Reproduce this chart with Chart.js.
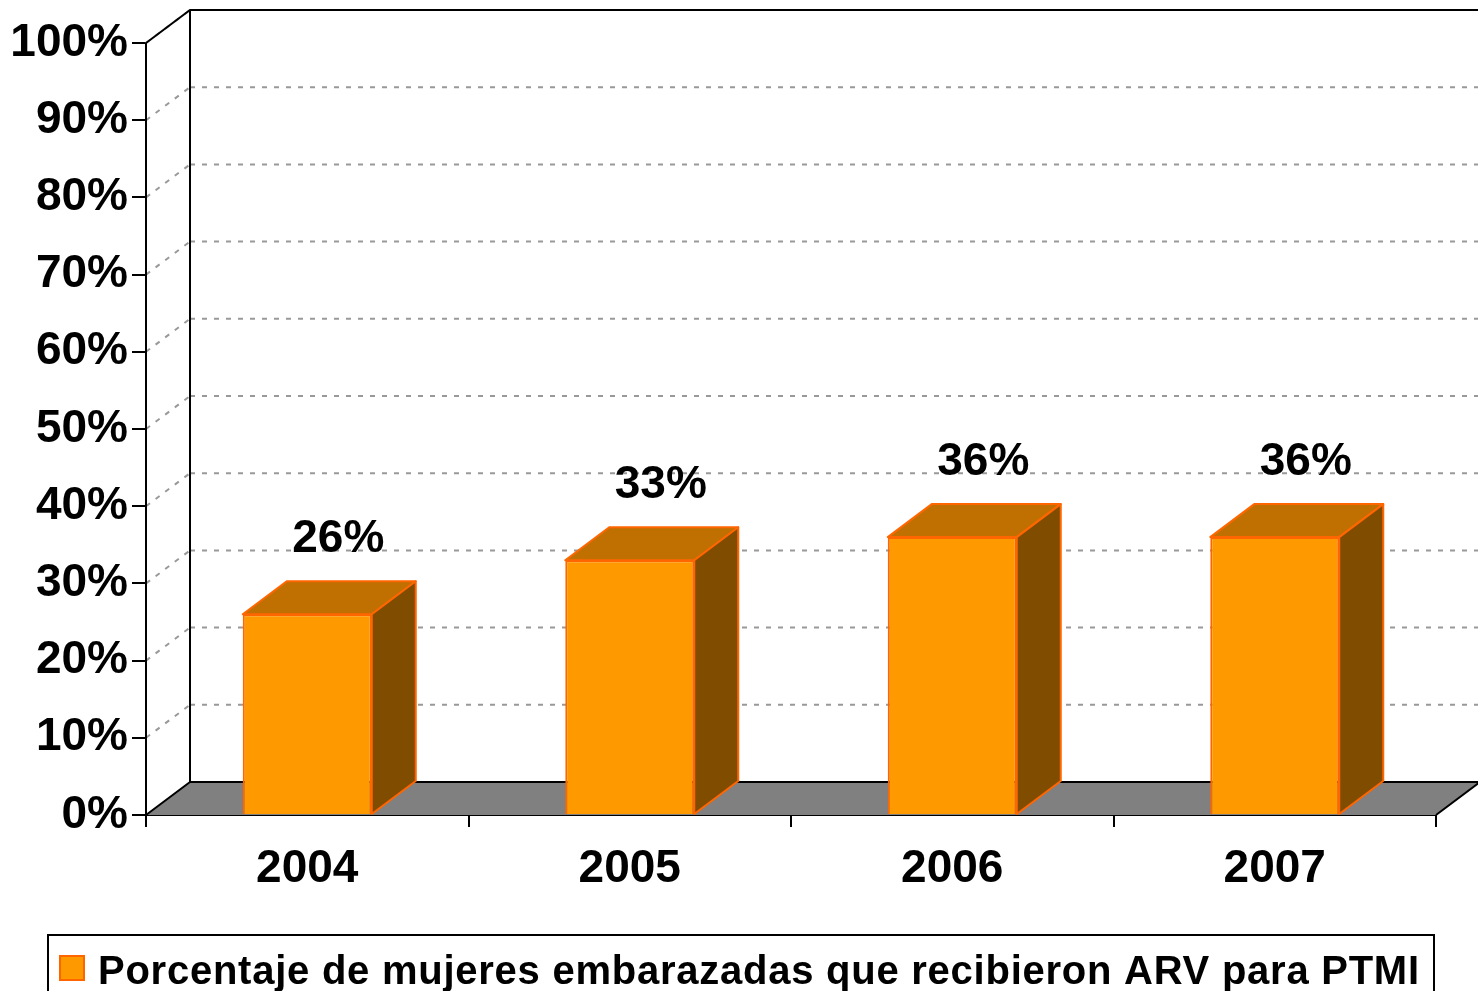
<!DOCTYPE html>
<html>
<head>
<meta charset="utf-8">
<script src="https://cdn.jsdelivr.net/npm/chart.js@4"></script>
<style>
  body { margin: 0; background: #fff; }
  canvas { display: block; }
</style>
</head>
<body>
<canvas id="myChart" width="1478" height="991"></canvas>
<script>
const years = ["2004", "2005", "2006", "2007"];
const percentValues = [26, 33, 36, 36];
const seriesLabel = "Porcentaje de mujeres embarazadas que recibieron ARV para PTMI";
const yTicks = [0, 10, 20, 30, 40, 50, 60, 70, 80, 90, 100];

// depth of the fake 3d
const DX = 44, DY = -33;
const FONT = "'Liberation Sans', Arial, sans-serif";

const box3d = {
  id: "box3d",
  beforeDatasetsDraw(chart) {
    const ctx = chart.ctx;
    const y = chart.scales.y, x = chart.scales.x;
    const left = x.left, right = x.right;
    const y0 = y.getPixelForValue(0);
    ctx.save();
    // floor
    ctx.fillStyle = "#808080";
    ctx.beginPath();
    ctx.moveTo(left, y0);
    ctx.lineTo(right, y0);
    ctx.lineTo(right + DX, y0 + DY);
    ctx.lineTo(left + DX, y0 + DY);
    ctx.closePath();
    ctx.fill();
    // dotted grid on back wall and side wall
    ctx.strokeStyle = "#999";
    ctx.lineWidth = 2;
    ctx.setLineDash([5, 7]);
    yTicks.forEach(v => {
      if (v === 0) return;
      const py = y.getPixelForValue(v);
      ctx.beginPath();
      ctx.moveTo(left + DX, py + DY);
      ctx.lineTo(right + DX, py + DY);
      ctx.stroke();
      ctx.beginPath();
      ctx.moveTo(left, py);
      ctx.lineTo(left + DX, py + DY);
      ctx.stroke();
    });
    ctx.setLineDash([]);
    // wall edges
    const yTop = y.getPixelForValue(100);
    ctx.strokeStyle = "#000";
    ctx.lineWidth = 2;
    ctx.beginPath();
    ctx.moveTo(left, yTop);
    ctx.lineTo(left + DX, yTop + DY);
    ctx.lineTo(right + DX, yTop + DY);
    ctx.moveTo(left + DX, yTop + DY);
    ctx.lineTo(left + DX, y0 + DY);
    ctx.lineTo(right + DX, y0 + DY);
    ctx.lineTo(right, y0);
    ctx.moveTo(left, y0);
    ctx.lineTo(left + DX, y0 + DY);
    ctx.moveTo(left, yTop);
    ctx.lineTo(left, y0 + 12);
    ctx.stroke();
    ctx.restore();
  },
  afterDatasetsDraw(chart) {
    const ctx = chart.ctx;
    const meta = chart.getDatasetMeta(0);
    ctx.save();
    ctx.lineWidth = 2;
    ctx.strokeStyle = "#FF6600";
    ctx.lineJoin = "round";
    meta.data.forEach((bar, i) => {
      const p = bar.getProps(["x", "y", "base", "width"], true);
      const l = p.x - p.width / 2, r = p.x + p.width / 2;
      // top face
      ctx.fillStyle = "#BF7000";
      ctx.beginPath();
      ctx.moveTo(l, p.y);
      ctx.lineTo(l + DX, p.y + DY);
      ctx.lineTo(r + DX, p.y + DY);
      ctx.lineTo(r, p.y);
      ctx.closePath();
      ctx.fill();
      ctx.stroke();
      // side face
      ctx.fillStyle = "#804C00";
      ctx.beginPath();
      ctx.moveTo(r, p.y);
      ctx.lineTo(r + DX, p.y + DY);
      ctx.lineTo(r + DX, p.base + DY);
      ctx.lineTo(r, p.base);
      ctx.closePath();
      ctx.fill();
      ctx.stroke();
      // value label
      ctx.fillStyle = "#000";
      ctx.font = "bold 46px " + FONT;
      ctx.textAlign = "center";
      ctx.textBaseline = "alphabetic";
      ctx.fillText(percentValues[i] + "%", p.x + 31, p.y + DY - 29);
    });
    ctx.restore();
  },
  afterDraw(chart) {
    // legend box
    const ctx = chart.ctx;
    ctx.save();
    ctx.strokeStyle = "#000";
    ctx.lineWidth = 2;
    ctx.strokeRect(48, 935, 1386, 80);
    ctx.fillStyle = "#FF9900";
    ctx.strokeStyle = "#FF6600";
    ctx.fillRect(60, 956, 24, 24);
    ctx.strokeRect(60, 956, 24, 24);
    ctx.fillStyle = "#000";
    ctx.font = "bold 40px " + FONT;
    ctx.letterSpacing = "0.75px";
    ctx.textBaseline = "alphabetic";
    ctx.fillText(chart.data.datasets[0].label, 98, 984);
    ctx.restore();
  }
};

const ctxBar = document.getElementById("myChart").getContext("2d");

new Chart(ctxBar, {
  type: "bar",
  data: {
    labels: years,
    datasets: [
      {
        label: seriesLabel,
        data: percentValues,
        backgroundColor: "#FF9900",
        borderColor: "#FF6600",
        borderWidth: 2,
        barPercentage: 0.8,
        categoryPercentage: 0.5
      }
    ]
  },
  options: {
    responsive: false,
    animation: false,
    layout: {
      padding: { left: 0, top: 43, right: 42, bottom: 0 }
    },
    plugins: {
      legend: { display: false },
      tooltip: { enabled: false }
    },
    scales: {
      x: {
        afterFit(scale) { scale.height = 176; },
        grid: {
          display: true,
          drawOnChartArea: false,
          drawTicks: true,
          tickLength: 12,
          color: "#000",
          lineWidth: 2
        },
        border: { display: true, color: "#000", width: 2 },
        ticks: {
          color: "#000",
          padding: 15,
          font: { family: FONT, size: 46, weight: "bold" }
        }
      },
      y: {
        min: 0,
        max: 100,
        afterFit(scale) { scale.width = 146; },
        afterBuildTicks(scale) { scale.ticks = yTicks.map(v => ({ value: v })); },
        grid: {
          display: true,
          drawOnChartArea: false,
          drawTicks: true,
          tickLength: 14,
          color: "#000",
          lineWidth: 2
        },
        border: { display: true, color: "#000", width: 2 },
        ticks: {
          color: "#000",
          padding: 4,
          callback: v => v + "%",
          font: { family: FONT, size: 46, weight: "bold" }
        }
      }
    }
  },
  plugins: [box3d]
});
</script>
</body>
</html>
